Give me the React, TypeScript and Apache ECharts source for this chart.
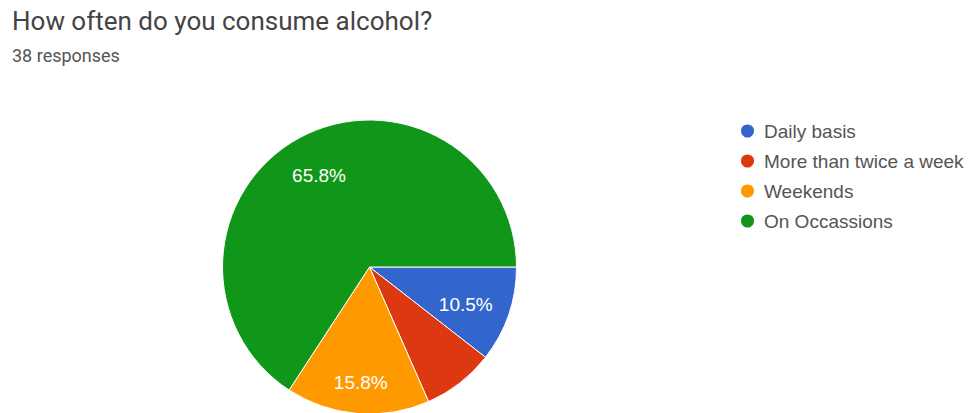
import React, { useEffect, useRef } from "react";
import * as echarts from "echarts";

const TITLE = "How often do you consume alcohol?";
const SUBTITLE = "38 responses";
const categories = ["Daily basis", "More than twice a week", "Weekends", "On Occassions"];
const counts = [4, 3, 6, 25];
const colors = ["#3366cc", "#dc3912", "#ff9900", "#109618"];
const showLabel = [true, false, true, true];

export default function App() {
  const ref = useRef<HTMLDivElement>(null);
  useEffect(() => {
    if (!ref.current) return;
    document.body.style.margin = "0";
    const chart = echarts.init(ref.current, null, { renderer: "svg" });
    const titleFont = "Roboto, Arial, sans-serif";
    const chartFont = "'Liberation Sans', Arial, sans-serif";
    const center = [369.5, 267];
    const mainData = categories.map((c, i) => ({
      name: c,
      value: counts[i],
      itemStyle: { color: colors[i] },
    }));
    const labelData = categories.map((c, i) => ({
      name: "lbl " + c,
      value: counts[i],
      itemStyle: { color: "rgba(0,0,0,0)" },
      label: { show: showLabel[i], offset: i === 2 ? [0, 10] : i === 0 ? [-4, 3] : [0, 2] },
    }));
    chart.setOption({
      animation: false,
      backgroundColor: "#ffffff",
      graphic: [
        {
          type: "text",
          left: 12,
          top: 8,
          style: { text: TITLE, fontSize: 26, fontFamily: titleFont, fill: "#444444" },
        },
        {
          type: "text",
          left: 12,
          top: 46,
          style: { text: SUBTITLE, fontSize: 18, fontFamily: titleFont, fill: "#555555" },
        },
      ],
      legend: {
        orient: "vertical",
        left: 734,
        top: 116,
        data: categories,
        icon: "circle",
        itemWidth: 15,
        itemHeight: 15,
        itemGap: 10,
        selectedMode: false,
        textStyle: {
          fontSize: 19,
          lineHeight: 20,
          fontFamily: chartFont,
          color: "#555555",
          padding: [0, 0, 0, 4],
        },
      },
      series: [
        {
          type: "pie",
          center,
          radius: 147,
          startAngle: 0,
          clockwise: true,
          percentPrecision: 1,
          silent: true,
          label: { show: false },
          labelLine: { show: false },
          itemStyle: { borderColor: "#ffffff", borderWidth: 1 },
          data: mainData,
        },
        {
          type: "pie",
          center,
          radius: [59, 147],
          startAngle: 0,
          clockwise: true,
          percentPrecision: 1,
          silent: true,
          labelLine: { show: false },
          label: {
            position: "inside",
            formatter: "{d}%",
            fontSize: 19,
            fontFamily: chartFont,
            color: "#ffffff",
          },
          data: labelData,
        },
      ],
    });
    return () => chart.dispose();
  }, []);
  return (
    <div
      ref={ref}
      style={{ position: "fixed", left: 0, top: 0, width: 973, height: 413 }}
    />
  );
}
